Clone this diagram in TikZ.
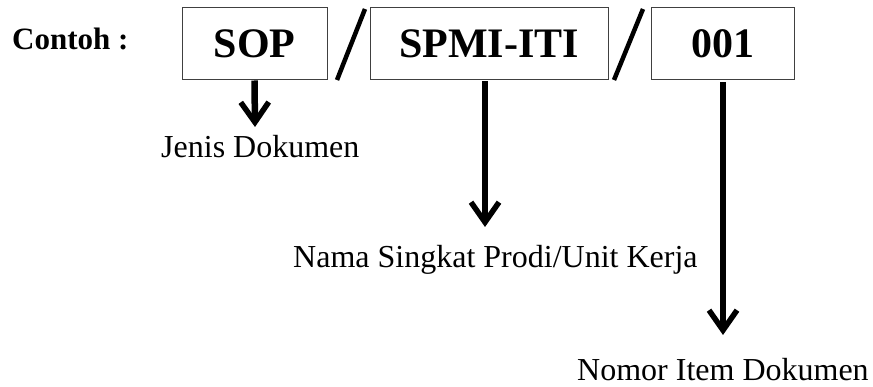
\documentclass[tikz,border=0pt]{standalone}
\usepackage{fontspec}
\setmainfont{Liberation Serif}
\usetikzlibrary{arrows.meta}

\tikzset{
	kotak/.style={draw=black!75, line width=1pt, minimum width=#1, minimum height=72pt,
		inner sep=0pt, font=\fontsize{42}{48}\selectfont\bfseries},
	ket/.style={anchor=base west, inner sep=0pt, font=\fontsize{32}{38}\selectfont},
	panah/.style={line width=6.5pt, -{Straight Barb[length=20pt, width=28pt, line width=5.5pt]}},
	garis/.style={line width=4.5pt}
}

\begin{document}
\begin{tikzpicture}[x=1pt, y=-1pt]
	\useasboundingbox (0,0) rectangle (873,387);

	% label contoh
	\node[anchor=base west, inner sep=0pt, font=\fontsize{31}{36}\selectfont\bfseries] (contoh) at (12,50) {Contoh :};

	% kotak kode dokumen
	\node[kotak=145pt] (sop) at (254.5,44) {SOP};
	\node[kotak=238pt] (spmi) at (489,44) {SPMI-ITI};
	\node[kotak=143pt] (nomor) at (722.5,44) {001};

	% garis miring pemisah
	\draw[garis] (337,80) -- (365,9);
	\draw[garis] (614,80) -- (643,9);

	% keterangan
	\node[ket] (jenis) at (161,158) {Jenis Dokumen};
	\node[ket] (singkat) at (293,268) {Nama Singkat Prodi/Unit Kerja};
	\node[ket] (item) at (577,380) {Nomor Item Dokumen};

	% titik ujung panah
	\coordinate (ujung1) at (255,127);
	\coordinate (ujung2) at (485,227);
	\coordinate (ujung3) at (723,335);

	% panah ke keterangan
	\draw[panah] (sop.south) -- (ujung1);
	\draw[panah] (spmi.south -| ujung2) ++(0,1) -- (ujung2);
	\draw[panah] (nomor.south -| ujung3) ++(0,2) -- (ujung3);
\end{tikzpicture}
\end{document}
